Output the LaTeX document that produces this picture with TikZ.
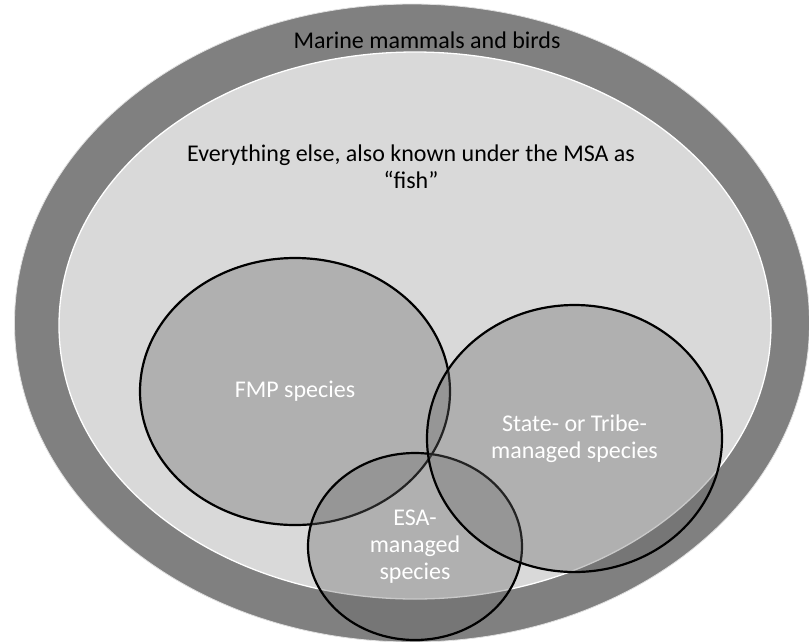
\documentclass[tikz,border=0pt]{standalone}
\usepackage{fontspec}
\setmainfont{Carlito}
\usetikzlibrary{positioning}
\usetikzlibrary{shapes.geometric}

\begin{document}
\begin{tikzpicture}
	[x=1pt,y=-1pt,font=\fontsize{24}{27}\selectfont,
	ring node/.style={shape=ellipse,inner sep=0pt},
	set node/.style={shape=ellipse,inner sep=0pt,draw=black,line width=2.2pt,fill=black!60,fill opacity=.35,text opacity=1,text=white,align=center},
	label node/.style={align=center,text=black}]
	\clip (0,0) rectangle (809,641);
	\node [ring node,fill=black!50,draw=black!12,line width=.8pt,minimum width=795,minimum height=638] (animals) at (412,323) {};
	\node [ring node,fill=black!15,draw=white,line width=1.3pt,minimum width=712,minimum height=547] (fish) at (415,325.5) {};
	
	\node [label node,anchor=base] (marine) at (427,48) {Marine mammals and birds};
	\node [label node] (else) at (411,167) {Everything else, also known under the MSA as\\``fish''};
	
	\node [set node,minimum width=310,minimum height=267] (fmp) at (295,391.5) {FMP species};
	\node [set node,minimum width=214,minimum height=187] (esa) at (415,546.5) {ESA-\\managed\\species};
	\node [set node,minimum width=295,minimum height=267] (state) at (574.5,438.5) {State- or Tribe-\\managed species};
	
\end{tikzpicture}
\end{document}
